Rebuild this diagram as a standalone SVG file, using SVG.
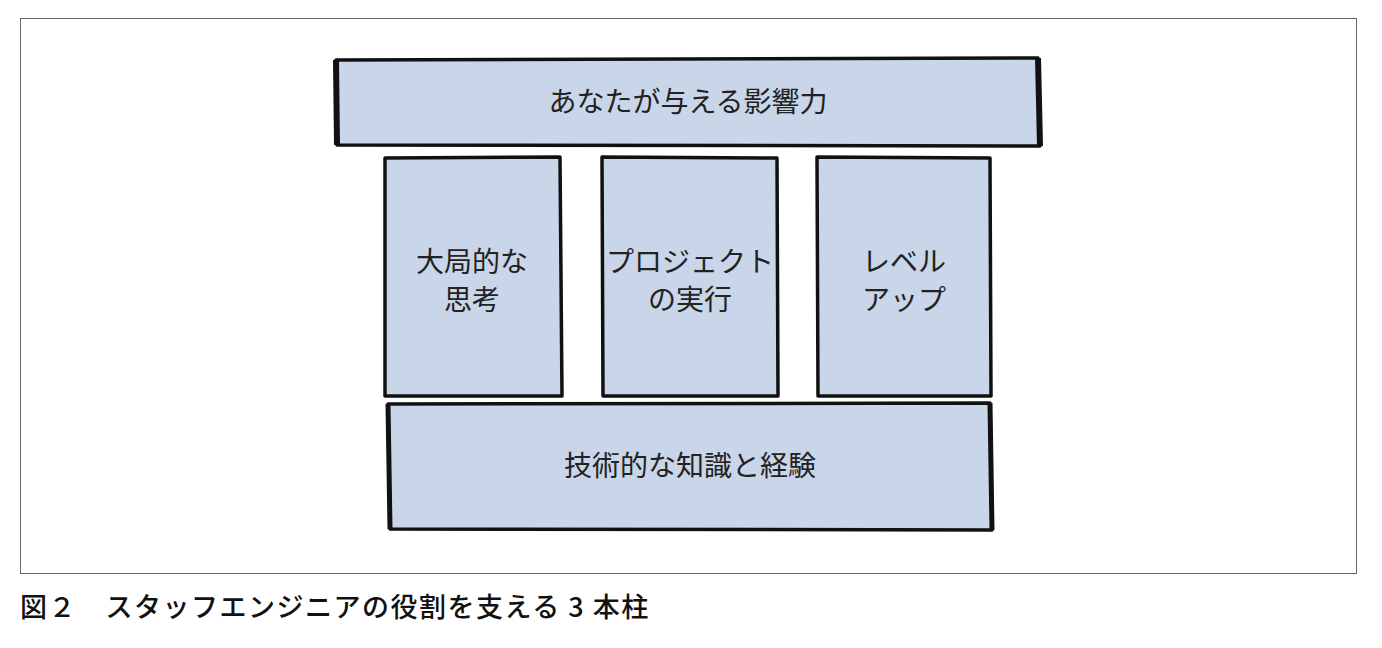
<svg xmlns="http://www.w3.org/2000/svg" width="1382" height="648" viewBox="0 0 1382 648">
<style>
.b{fill:#c9d5e8;stroke:#111;stroke-width:3.5;stroke-linejoin:round}
.t{font-family:"Noto Sans CJK JP","Noto Sans",sans-serif;font-size:28px;fill:#222;text-anchor:middle}
.c{font-family:"Noto Sans CJK JP","Noto Sans",sans-serif;font-size:27px;fill:#111;font-weight:500;letter-spacing:1.5px}
</style>
<rect width="1382" height="648" fill="#fff"/>
<rect x="20.5" y="18.5" width="1336" height="555" fill="none" stroke="#666" stroke-width="1"/>
<g id="top"><path class="b" d="M336 60 L1038 58 L1040 146 L337 145 Z"/><path d="M336 60 L337 145 M1038 58 L1040 146" stroke="#111" stroke-width="6"/><text class="t" x="688" y="112">あなたが与える影響力</text></g>
<g id="p1"><path class="b" d="M385 158 L560 157 L562 396 L385 396 Z"/><text class="t" x="472" y="272">大局的な</text><text class="t" x="472" y="310">思考</text></g>
<g id="p2"><path class="b" d="M602 157 L777 158 L778 396 L603 396 Z"/><text class="t" x="690" y="272">プロジェクト</text><text class="t" x="690" y="310">の実行</text></g>
<g id="p3"><path class="b" d="M817 157 L990 158 L991 396 L818 396 Z"/><text class="t" x="904" y="272">レベル</text><text class="t" x="904" y="310">アップ</text></g>
<g id="bottom"><path class="b" d="M388 404 L990 403 L992 530 L390 529 Z"/><path d="M388 404 L390 529 M990 403 L992 530" stroke="#111" stroke-width="5"/><text class="t" x="690" y="476">技術的な知識と経験</text></g>
<g id="connectors"/>
<text class="c" x="20" y="617">図２　スタッフエンジニアの役割を支える 3 本柱</text>
</svg>
